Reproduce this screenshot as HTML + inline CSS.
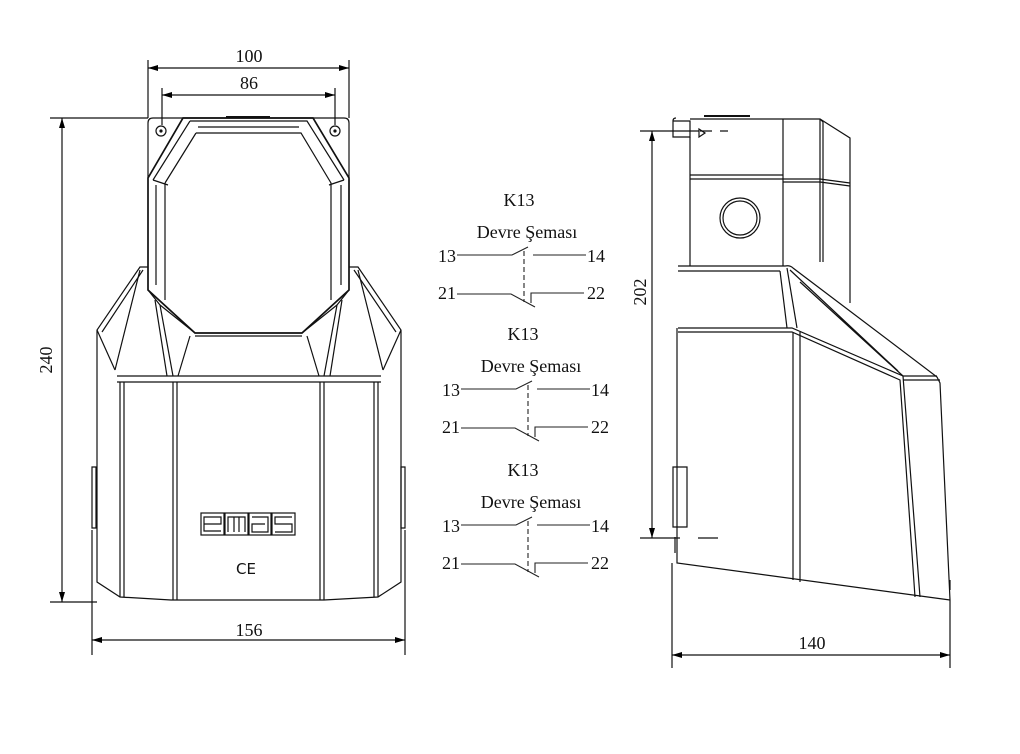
<!DOCTYPE html>
<html><head><meta charset="utf-8"><style>
html,body{margin:0;padding:0;background:#fff;}
svg{display:block;}
text{font-family:"Liberation Serif",serif;fill:#111;}
</style></head><body>
<svg width="1020" height="754" viewBox="0 0 1020 754" xmlns="http://www.w3.org/2000/svg">
<defs>
<marker id="a" viewBox="0 0 10 6" refX="10" refY="3" markerWidth="10" markerHeight="6" orient="auto-start-reverse" markerUnits="userSpaceOnUse"><path d="M0,0 L10,3 L0,6z" fill="#000"/></marker>
</defs>
<g fill="none" stroke="#111" stroke-width="1.2">
<!-- FRONT VIEW -->
<path d="M148,178 V123 Q148,118 153,118 H344 Q349,118 349,123 V178" />
<circle cx="161" cy="131" r="5"/><circle cx="161" cy="131" r="1" fill="#111"/>
<circle cx="335" cy="131" r="5"/><circle cx="335" cy="131" r="1" fill="#111"/>
<path d="M226,117 H270" stroke-width="2"/>
<path d="M183,118 H313 L349,178 V290 L302,333 H195 L148,290 V178 Z" stroke-width="1.7"/>
<path d="M190,121 H307 L344,180 M153,180 L190,121"/>
<path d="M196,133 H301 L331,183 V300 M165,183 L196,133 M165,183 V300"/>
<path d="M198,127 H299"/>
<path d="M153,180 L168,185 M344,180 L329,185"/>
<path d="M156,185 V285 M341,185 V285"/>
<path d="M195,336 H302"/>
<!-- lower body -->
<path d="M148,267 H140 L97,330 V582 L120,597 L171,600 H324 L378,597 L401,582 V330 L358,267 H349"/>
<path d="M143,270 L102,332 M354,270 L396,332"/>
<path d="M148,290 L160,305 L173,376 M349,290 L337,305 L324,376"/>
<path d="M155,300 L167,376 M342,300 L330,376"/>
<path d="M160,305 L195,333 M337,305 L302,333"/>
<path d="M190,336 L178,376 M307,336 L319,376"/>
<path d="M140,270 L115,370 M358,270 L383,370"/>
<path d="M97,330 L115,370 M401,330 L383,370"/>
<path d="M117,376 H381 M117,382 H381"/>
<path d="M120,382 V597 M124,382 V597 M173,382 V600 M177,382 V600 M320,382 V600 M324,382 V600 M374,382 V597 M378,382 V597"/>
<path d="M92,467 H96 V528 H92 Z M401,467 H405 V528 H401 Z"/>
<!-- emas logo -->
<rect x="201" y="513" width="23" height="22"/><rect x="225" y="513" width="23" height="22"/><rect x="249" y="513" width="22" height="22"/><rect x="272" y="513" width="23" height="22"/>
<path d="M204,524 H221 V517 H204 V531 H221"/>
<path d="M228,532 V517 H245 V532 M234,517 V532 M239,517 V532"/>
<path d="M252,517 H268 V532 H252 V524 H265"/>
<path d="M292,517 H275 V524 H292 V532 H275"/>
<!-- front dims -->
<path d="M148,60 V118 M349,60 V118 M162,88 V125 M335,88 V125"/>
<path d="M148,68 H349" marker-start="url(#a)" marker-end="url(#a)"/>
<path d="M162,95 H335" marker-start="url(#a)" marker-end="url(#a)"/>
<path d="M50,118 H148 M50,602 H97"/>
<path d="M62,118 V602" marker-start="url(#a)" marker-end="url(#a)"/>
<path d="M92,530 V655 M405,530 V655"/>
<path d="M92,640 H405" marker-start="url(#a)" marker-end="url(#a)"/>
<!-- SIDE VIEW -->
<path d="M673,121 H690 V137 H673 Z M673,121 Q673,118 676,118"/>
<path d="M690,119 H820 L850,138 V303"/>
<path d="M704,116 H750" stroke-width="2"/>
<path d="M783,119 V266 M820,119 V262 M823,122 V262 M820,119 L823,122"/>
<path d="M690,175 H783 M690,179 H783 M783,179 H820 L850,183 M783,182 H820 L850,186"/>
<path d="M690,137 V266"/>
<path d="M699,129 L705,133 L699,137 Z M690,131 H699"/>
<circle cx="740" cy="218" r="20"/><circle cx="740" cy="218" r="17"/>
<path d="M678,266 H785 Q790,265 793,268 L937,377 L940,383 L950,600"/>
<path d="M678,271 H780"/>
<path d="M790,270 L898,371 M800,282 L903,376"/>
<path d="M780,271 L787,328 M787,268 L797,328"/>
<path d="M678,328 H792 L903,376 L920,597 M678,332 H792 L900,380 L915,597 M903,376 H937 M903,380 H940"/>
<path d="M793,332 V580 M800,332 V582"/>
<path d="M677,328 V563 L950,600"/>
<path d="M673,467 H687 V527 H673 Z"/>
<path d="M675,537 V553 M950,580 V590"/>
<!-- side dims -->
<path d="M640,131 H690"/>
<path d="M700,131 H728" stroke-dasharray="12,8"/>
<path d="M640,538 H680"/>
<path d="M698,538 H718"/>
<path d="M652,131 V538" marker-start="url(#a)" marker-end="url(#a)"/>
<path d="M672,563 V668 M950,600 V668"/>
<path d="M672,655 H950" marker-start="url(#a)" marker-end="url(#a)"/>
</g>
<!-- SCHEMATICS -->
<g fill="none" stroke="#222" stroke-width="1.1">
<g>
<path d="M457,255 H512 L528,247 M533,255 H586 M457,294 H511 L535,307 M531,303 V293 H584"/>
<path d="M524,251 V302" stroke-dasharray="5,3"/>
</g>
<g transform="translate(4,134)">
<path d="M457,255 H512 L528,247 M533,255 H586 M457,294 H511 L535,307 M531,303 V293 H584"/>
<path d="M524,251 V302" stroke-dasharray="5,3"/>
</g>
<g transform="translate(4,270)">
<path d="M457,255 H512 L528,247 M533,255 H586 M457,294 H511 L535,307 M531,303 V293 H584"/>
<path d="M524,251 V302" stroke-dasharray="5,3"/>
</g>
</g>
<g font-size="18">
<text x="519" y="206" text-anchor="middle">K13</text>
<text x="527" y="238" text-anchor="middle">Devre Şeması</text>
<text x="447" y="262" text-anchor="middle">13</text>
<text x="596" y="262" text-anchor="middle">14</text>
<text x="447" y="299" text-anchor="middle">21</text>
<text x="596" y="299" text-anchor="middle">22</text>
<text x="523" y="340" text-anchor="middle">K13</text>
<text x="531" y="372" text-anchor="middle">Devre Şeması</text>
<text x="451" y="396" text-anchor="middle">13</text>
<text x="600" y="396" text-anchor="middle">14</text>
<text x="451" y="433" text-anchor="middle">21</text>
<text x="600" y="433" text-anchor="middle">22</text>
<text x="523" y="476" text-anchor="middle">K13</text>
<text x="531" y="508" text-anchor="middle">Devre Şeması</text>
<text x="451" y="532" text-anchor="middle">13</text>
<text x="600" y="532" text-anchor="middle">14</text>
<text x="451" y="569" text-anchor="middle">21</text>
<text x="600" y="569" text-anchor="middle">22</text>
<text x="249" y="62" text-anchor="middle">100</text>
<text x="249" y="89" text-anchor="middle">86</text>
<text x="249" y="636" text-anchor="middle">156</text>
<text x="812" y="649" text-anchor="middle">140</text>
<text transform="translate(52,360) rotate(-90)" text-anchor="middle">240</text>
<text transform="translate(646,292) rotate(-90)" text-anchor="middle">202</text>
</g>
<text x="246" y="574" font-size="15" text-anchor="middle" style="font-family:'DejaVu Sans',sans-serif">CE</text>
</svg>
</body></html>
